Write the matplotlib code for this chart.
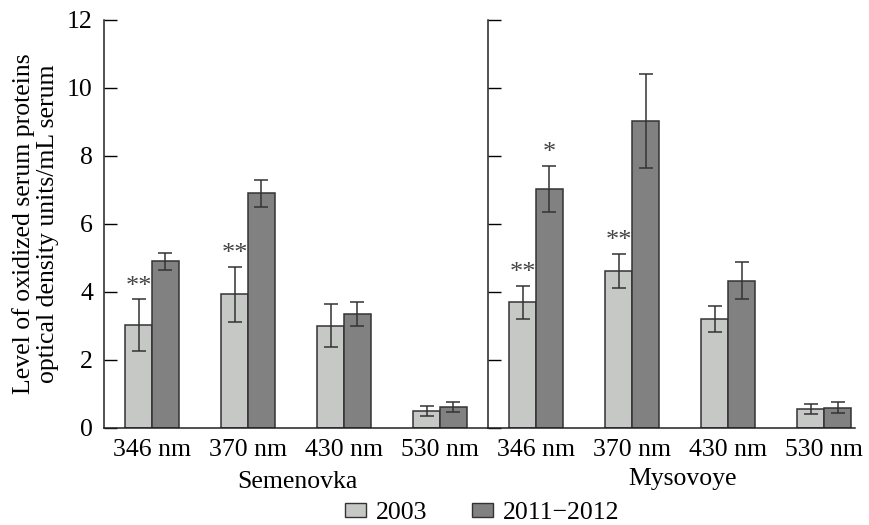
import matplotlib
matplotlib.use("Agg")
import matplotlib.pyplot as plt
from matplotlib.patches import Patch
import numpy as np

plt.rcParams['font.family'] = ['Liberation Serif', 'DejaVu Serif']

wavelengths = ['346 nm', '370 nm', '430 nm', '530 nm']
sites = ['Semenovka', 'Mysovoye']
years = ['2003', '2011\u22122012']

# mean values and error half-widths per site
semenovka_2003 = [3.03, 3.93, 3.01, 0.49]
semenovka_2011 = [4.90, 6.90, 3.35, 0.61]
semenovka_2003_err = [0.76, 0.82, 0.64, 0.15]
semenovka_2011_err = [0.25, 0.40, 0.36, 0.15]

mysovoye_2003 = [3.70, 4.62, 3.21, 0.56]
mysovoye_2011 = [7.04, 9.03, 4.33, 0.60]
mysovoye_2003_err = [0.49, 0.51, 0.39, 0.15]
mysovoye_2011_err = [0.68, 1.37, 0.54, 0.16]

# significance marks above bars
semenovka_2003_sig = ['**', '**', '', '']
semenovka_2011_sig = ['', '', '', '']
mysovoye_2003_sig = ['**', '**', '', '']
mysovoye_2011_sig = ['*', '', '', '']

light = '#c6c8c6'
dark = '#818181'
edge = '#333333'
fs = 18.5

fig = plt.figure(figsize=(8.69, 5.25), dpi=100)
ax1 = fig.add_axes([104 / 869, 1 - 428 / 525, 384 / 869, 408 / 525])
ax2 = fig.add_axes([488 / 869, 1 - 428 / 525, 367 / 869, 408 / 525])

panels = [
    (ax1, semenovka_2003, semenovka_2011, semenovka_2003_err, semenovka_2011_err,
     semenovka_2003_sig, semenovka_2011_sig, 4.0),
    (ax2, mysovoye_2003, mysovoye_2011, mysovoye_2003_err, mysovoye_2011_err,
     mysovoye_2003_sig, mysovoye_2011_sig, 3.82),
]

w = 0.28
x = np.arange(len(wavelengths)) + 0.5
for ax, v1, v2, e1, e2, s1, s2, xmax in panels:
    ax.bar(x - w / 2, v1, w, color=light, edgecolor=edge, linewidth=1.1, zorder=2)
    ax.bar(x + w / 2, v2, w, color=dark, edgecolor=edge, linewidth=1.1, zorder=2)
    ax.errorbar(x - w / 2, v1, yerr=e1, fmt='none', ecolor=edge, elinewidth=1.1,
                capsize=5, capthick=1.1, zorder=3)
    ax.errorbar(x + w / 2, v2, yerr=e2, fmt='none', ecolor=edge, elinewidth=1.1,
                capsize=5, capthick=1.1, zorder=3)
    for i in range(len(x)):
        if s1[i]:
            ax.text(x[i] - w / 2, v1[i] + e1[i] + 0.04, s1[i], ha='center',
                    va='bottom', fontsize=19, color='#444444')
        if s2[i]:
            ax.text(x[i] + w / 2, v2[i] + e2[i] + 0.04, s2[i], ha='center',
                    va='bottom', fontsize=19, color='#444444')
    ax.set_xlim(0, xmax)
    ax.set_ylim(0, 12)
    ax.set_yticks(range(0, 13, 2))
    ax.set_xticks(x)
    ax.set_xticklabels(wavelengths, fontsize=fs)
    ax.tick_params(axis='x', length=0, pad=8)
    ax.tick_params(axis='y', direction='in', length=9, width=1, labelsize=fs, pad=8)
    for sp in ['top', 'right']:
        ax.spines[sp].set_visible(False)
    for sp in ['left', 'bottom']:
        ax.spines[sp].set_linewidth(1.1)
        ax.spines[sp].set_color('#222222')
    ax.set_facecolor('none')

ax2.tick_params(axis='y', labelleft=False)
ax1.set_ylabel('Level of oxidized serum proteins\noptical density units/mL serum',
               fontsize=fs, labelpad=6, linespacing=1.1)

ax1.text(2.01, -1.76, sites[0], ha='center', va='baseline', fontsize=fs)
ax2.text(2.02, -1.67, sites[1], ha='center', va='baseline', fontsize=fs)

handles = [Patch(facecolor=light, edgecolor=edge, linewidth=1.0),
           Patch(facecolor=dark, edgecolor=edge, linewidth=1.0)]
fig.legend(handles, years, loc='lower center', bbox_to_anchor=(0.555, -0.043),
           ncol=2, frameon=False, fontsize=fs, handlelength=0.8, handleheight=0.45,
           handletextpad=0.4, columnspacing=1.75)

fig.savefig('out.png', dpi=100)
